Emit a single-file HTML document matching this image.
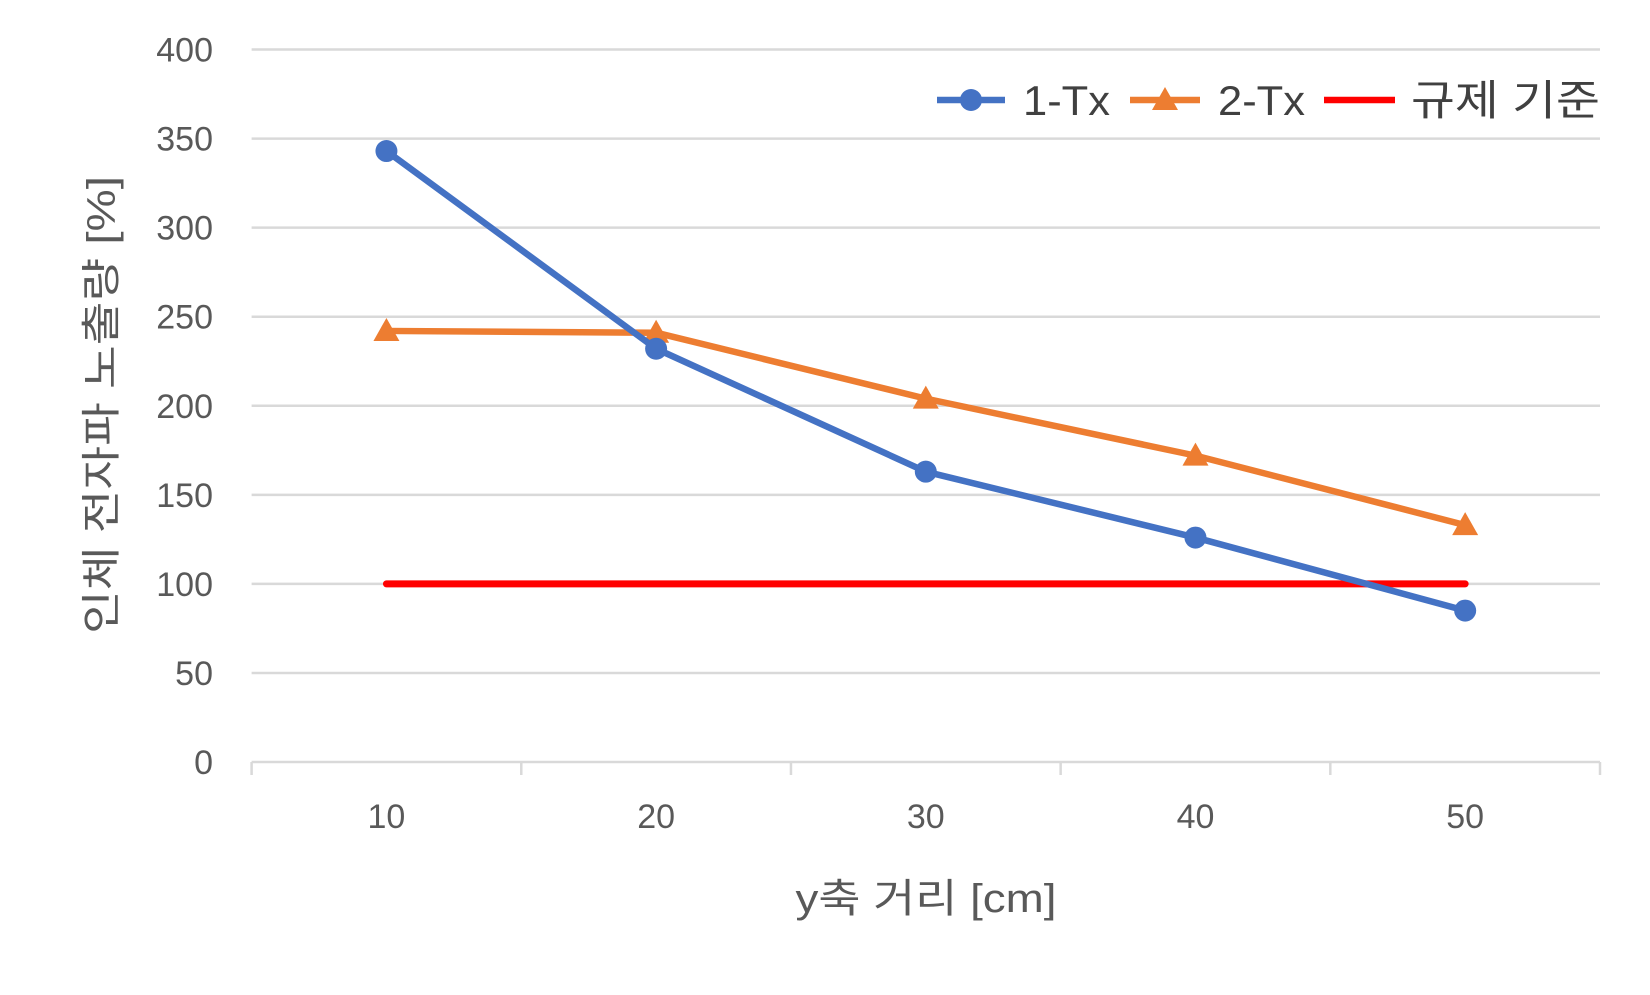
<!DOCTYPE html>
<html><head><meta charset="utf-8"><style>
body{margin:0;background:#fff;}
svg text{font-family:"Liberation Sans","Noto Sans CJK KR",sans-serif;fill:#595959;}
</style></head><body>
<svg id="chart" width="1650" height="990" viewBox="0 0 1650 990" xmlns="http://www.w3.org/2000/svg">
<g id="grid"></g>
<g id="yticks"></g>
<g id="xaxis"></g>
<g id="series"></g>
<text x="926" y="912" font-size="40" text-anchor="middle" textLength="261" lengthAdjust="spacingAndGlyphs">y축 거리 [cm]</text>
<text transform="translate(115,405) rotate(-90)" font-size="40" text-anchor="middle" textLength="458" lengthAdjust="spacingAndGlyphs">인체 전자파 노출량 [%]</text>
<g>
 <g>
  <line x1="937" y1="100" x2="1005" y2="100" stroke="#4472C4" stroke-width="6.5"/>
  <circle cx="971" cy="100" r="11" fill="#4472C4"/>
  <text x="1023" y="115" font-size="42" style="fill:#404040" textLength="87" lengthAdjust="spacingAndGlyphs">1-Tx</text>
 </g>
 <g>
  <line x1="1130" y1="100" x2="1200" y2="100" stroke="#ED7D31" stroke-width="6.5"/>
  <polygon points="1165,87 1178,110 1152,110" fill="#ED7D31"/>
  <text x="1218" y="115" font-size="42" style="fill:#404040" textLength="87" lengthAdjust="spacingAndGlyphs">2-Tx</text>
 </g>
 <g>
  <line x1="1324" y1="100" x2="1395" y2="100" stroke="#FF0000" stroke-width="6.5"/>
  <text x="1411" y="115" font-size="42" style="fill:#404040" textLength="189" lengthAdjust="spacingAndGlyphs">규제 기준</text>
 </g>
</g>
</svg>
<script>
const categories = [10, 20, 30, 40, 50];
const tx1 = [343, 232, 163, 126, 85];
const tx2 = [242, 241, 204, 172, 133];
const regulation = [100, 100, 100, 100, 100];
const yTicks = [0, 50, 100, 150, 200, 250, 300, 350, 400];

const NS = "http://www.w3.org/2000/svg";
const plotLeft = 251.6, plotRight = 1600, plotTop = 49.5, plotBottom = 762, yMax = 400;
const band = (plotRight - plotLeft) / categories.length;
function xPos(i){ return plotLeft + band * (i + 0.5); }
function yPos(v){ return plotBottom - (v / yMax) * (plotBottom - plotTop); }
function mk(tag, attrs, parent){ const e = document.createElementNS(NS, tag); for (const k in attrs) e.setAttribute(k, attrs[k]); parent.appendChild(e); return e; }

const grid = document.getElementById('grid');
const yt = document.getElementById('yticks');
yTicks.forEach(t => {
  if (t > 0) {
    const g = mk('line', {x1:plotLeft, x2:plotRight, y1:yPos(t), y2:yPos(t), stroke:'#d9d9d9', 'stroke-width':2.5}, grid);
    
    
  }
  const l = mk('text', {x:213, y:yPos(t) + 12, 'font-size':34, 'text-anchor':'end'}, yt);
  
  
  l.textContent = t;
});

const xa = document.getElementById('xaxis');
const axl = mk('line', {x1:plotLeft, x2:plotRight, y1:plotBottom, y2:plotBottom, stroke:'#d9d9d9', 'stroke-width':2.5}, xa);


for (let i = 0; i <= categories.length; i++) {
  const x = plotLeft + band * i;
  const tk = mk('line', {x1:x, x2:x, y1:plotBottom, y2:plotBottom + 13, stroke:'#d9d9d9', 'stroke-width':2.5}, xa);
  
  
}
categories.forEach((c, i) => {
  const l = mk('text', {x:xPos(i), y:828, 'font-size':34, 'text-anchor':'middle'}, xa);
  
  
  l.textContent = c;
});

const seriesG = document.getElementById('series');
function pts(arr){ return arr.map((v, i) => xPos(i) + ',' + yPos(v)).join(' '); }

const reg = mk('polyline', {points:pts(regulation), fill:'none', stroke:'#FF0000', 'stroke-width':7, 'stroke-linecap':'round'}, seriesG);



const l2 = mk('polyline', {points:pts(tx2), fill:'none', stroke:'#ED7D31', 'stroke-width':6.5, 'stroke-linejoin':'round'}, seriesG);


tx2.forEach((v, i) => {
  const x = xPos(i), y = yPos(v);
  const m = mk('polygon', {points:`${x},${y-13} ${x+13},${y+10} ${x-13},${y+10}`, fill:'#ED7D31'}, seriesG);
  
  
});

const l1 = mk('polyline', {points:pts(tx1), fill:'none', stroke:'#4472C4', 'stroke-width':6.5, 'stroke-linejoin':'round'}, seriesG);


tx1.forEach((v, i) => {
  const m = mk('circle', {cx:xPos(i), cy:yPos(v), r:11, fill:'#4472C4'}, seriesG);
  
  
});
</script>
</body></html>
